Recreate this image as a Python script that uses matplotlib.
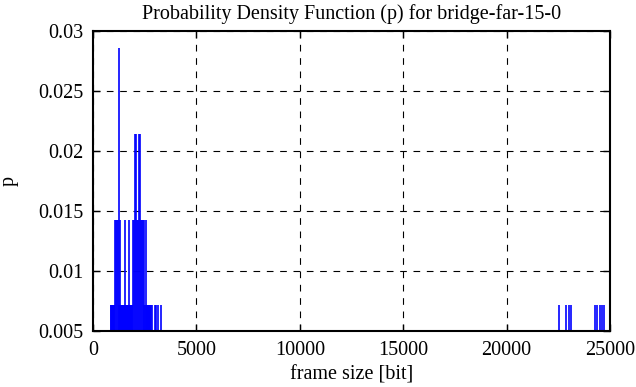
import matplotlib
matplotlib.use('Agg')
import matplotlib.pyplot as plt

# frame sizes [bit] and their probabilities
frame_size_4 = [1240]
frame_size_3 = [2027, 2075, 2220, 2268]
frame_size_2 = [1062, 1110, 1158, 1200, 1303, 1544, 1737, 1930, 1979,
                2123, 2172, 2316, 2365, 2413, 2460, 2558]
frame_size_1 = [869, 893, 917, 941, 965, 989, 1013, 1037, 1280, 1327, 1351,
                1376, 1400, 1424, 1448, 1472, 1496, 1520, 1568, 1592, 1616,
                1640, 1665, 1689, 1713, 1761, 1785, 1809, 1833, 1858, 1882,
                1906, 2490, 2510, 2582, 2606, 2630, 2654, 2678, 2703, 2727,
                2751, 2775, 2799,
                2871, 2992, 3065, 3161, 3306,
                22527, 22865, 23010, 23116, 24275, 24371, 24516, 24613, 24733]
p_levels = [0.02857, 0.02143, 0.01429, 0.00714]

plt.rcParams['font.family'] = ['Liberation Serif', 'DejaVu Serif']
plt.rcParams['font.size'] = 14.5

fig = plt.figure(figsize=(6.36, 3.87), dpi=100)
ax = fig.add_axes([93 / 636, 1 - 331 / 387, 517 / 636, 300 / 387])

ymin = 0.005
for xs, p in zip([frame_size_1, frame_size_2, frame_size_3, frame_size_4], p_levels[::-1]):
    ax.vlines(xs, ymin, p, color='#0000ff', linewidth=1.2)

ax.set_xlim(0, 25000)
ax.set_ylim(0.005, 0.03)
ax.set_xticks([0, 5000, 10000, 15000, 20000, 25000])
ax.set_yticks([0.005, 0.01, 0.015, 0.02, 0.025, 0.03])
ax.set_yticklabels(['0.005', '0.01', '0.015', '0.02', '0.025', '0.03'])
ax.grid(True, color='black', linewidth=0.8, linestyle=(0, (6, 6)))
ax.set_axisbelow(True)
ax.tick_params(direction='in', length=5, width=1, top=True, right=True, pad=7)
for s in ax.spines.values():
    s.set_linewidth(1.5)

ax.set_title('Probability Density Function (p) for bridge-far-15-0', fontsize=14.5, pad=9)
ax.set_xlabel('frame size [bit]', labelpad=4)
ax.set_ylabel('p', labelpad=14)

fig.savefig('out.png', dpi=100)
